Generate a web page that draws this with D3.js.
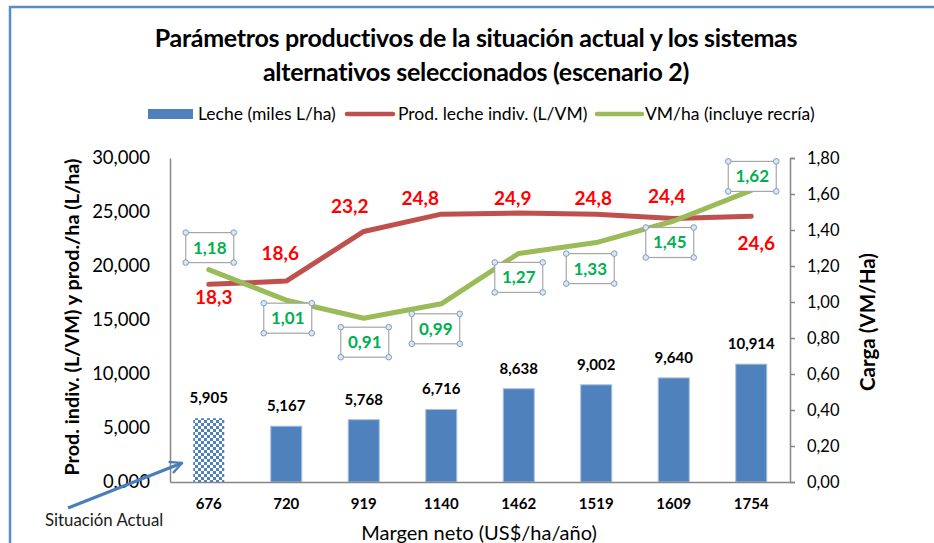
<!DOCTYPE html>
<html>
<head>
<meta charset="utf-8">
<script src="https://cdn.jsdelivr.net/npm/d3@7"></script>
<style>
  html, body { margin: 0; padding: 0; background: #fff; }
  svg { display: block; font-family: Lato, "Open Sans", sans-serif; }
</style>
</head>
<body>
<svg id="chart" width="934" height="543"></svg>
<script>
// ---- data ----
const categories = ["676", "720", "919", "1140", "1462", "1519", "1609", "1754"];
const leche = [5905, 5167, 5768, 6716, 8638, 9002, 9640, 10914];          // L/ha
const prodIndiv = [18.3, 18.6, 23.2, 24.8, 24.9, 24.8, 24.4, 24.6];       // L/VM
const vmHa = [1.18, 1.01, 0.91, 0.99, 1.27, 1.33, 1.45, 1.62];            // VM/ha
const leftTicks = [0, 5000, 10000, 15000, 20000, 25000, 30000];
const leftTickLabels = ["0,000", "5,000", "10,000", "15,000", "20,000", "25,000", "30,000"];
const rightTicks = [0, 0.2, 0.4, 0.6, 0.8, 1.0, 1.2, 1.4, 1.6, 1.8];
const rightTickLabels = ["0,00", "0,20", "0,40", "0,60", "0,80", "1,00", "1,20", "1,40", "1,60", "1,80"];
const redLabels = ["18,3", "18,6", "23,2", "24,8", "24,9", "24,8", "24,4", "24,6"];
const greenLabels = ["1,18", "1,01", "0,91", "0,99", "1,27", "1,33", "1,45", "1,62"];
const barLabels = ["5,905", "5,167", "5,768", "6,716", "8,638", "9,002", "9,640", "10,914"];

// ---- label placement (style) ----
const redOff = [[5, 13], [-6, -28], [-14, -25], [-21, -16], [-6, -15], [-3, -16], [-7, -22], [5, 27]];
const greenOff = [[1, -22], [1.5, 18], [1, 24], [-5.5, 25], [0, 24], [-6, 26], [-4, 21.5], [1, -14]];

const svg = d3.select("#chart");
const x0 = 170, x1 = 790, yTop = 158, yBot = 482;

const colBar = "#4F81BD", colRed = "#C0504D", colGreen = "#9BBB59", axisCol = "#868686";

// chart border
svg.append("rect").attr("x", 10).attr("y", 7).attr("width", 1000).attr("height", 1000)
  .attr("fill", "none").attr("stroke", "#5B8BC9").attr("stroke-width", 2.5);

// pattern
const defs = svg.append("defs");
const pat = defs.append("pattern").attr("id", "checker").attr("patternUnits", "userSpaceOnUse")
  .attr("width", 6).attr("height", 6);
pat.append("rect").attr("width", 6).attr("height", 6).attr("fill", "#fff");
pat.append("rect").attr("width", 3).attr("height", 3).attr("fill", colBar);
pat.append("rect").attr("x", 3).attr("y", 3).attr("width", 3).attr("height", 3).attr("fill", colBar);

defs.append("marker").attr("id", "arrowHead").attr("viewBox", "0 0 10 10")
  .attr("refX", 9).attr("refY", 5).attr("markerWidth", 5).attr("markerHeight", 5)
  .attr("markerUnits", "strokeWidth").attr("orient", "auto")
  .append("path").attr("d", "M1,1 L9,5 L1,9").attr("fill", "none")
  .attr("stroke", "#4A7EBB").attr("stroke-width", 1.6);

// scales
const x = d3.scaleBand().domain(categories).range([x0, x1]).paddingInner(0.6).paddingOuter(0.3);
const yL = d3.scaleLinear().domain([0, 30000]).range([yBot, yTop]);
const yR = d3.scaleLinear().domain([0, 1.8]).range([yBot, yTop]);
const cx = c => x(c) + x.bandwidth() / 2;

// title
const title = svg.append("g").attr("font-weight", "bold").attr("font-size", 25)
  .attr("text-anchor", "middle").attr("fill", "#000");
title.append("text").attr("x", 476).attr("y", 47).attr("letter-spacing", -0.3)
  .text("Parámetros productivos de la situación actual y los sistemas");
title.append("text").attr("x", 476).attr("y", 81).attr("letter-spacing", -0.3)
  .text("alternativos seleccionados (escenario 2)");

// legend
const lg = svg.append("g").attr("font-size", 17.5).attr("fill", "#000");
lg.append("rect").attr("x", 148).attr("y", 109).attr("width", 45).attr("height", 10).attr("fill", colBar);
lg.append("text").attr("x", 198).attr("y", 120).text("Leche (miles L/ha)");
lg.append("line").attr("x1", 347).attr("x2", 393).attr("y1", 114).attr("y2", 114)
  .attr("stroke", colRed).attr("stroke-width", 4.5).attr("stroke-linecap", "round");
lg.append("text").attr("x", 398).attr("y", 120).text("Prod. leche indiv. (L/VM)");
lg.append("line").attr("x1", 597).attr("x2", 642).attr("y1", 114).attr("y2", 114)
  .attr("stroke", colGreen).attr("stroke-width", 4.5).attr("stroke-linecap", "round");
lg.append("text").attr("x", 645).attr("y", 120).text("VM/ha (incluye recría)");

// bars
svg.append("g").selectAll("rect").data(categories).join("rect")
  .attr("x", d => x(d)).attr("width", x.bandwidth())
  .attr("y", (d, i) => yL(leche[i])).attr("height", (d, i) => yBot - yL(leche[i]))
  .attr("fill", (d, i) => i === 0 ? "url(#checker)" : colBar)
  .attr("stroke", (d, i) => i === 0 ? "none" : "#A7C0E0").attr("stroke-width", 1);

// bar labels
svg.append("g").attr("font-size", 15).attr("font-weight", "bold").attr("text-anchor", "middle")
  .selectAll("text").data(categories).join("text")
  .attr("x", d => cx(d)).attr("y", (d, i) => yL(leche[i]) - 15)
  .text((d, i) => barLabels[i]);

// axes
const axL = d3.axisLeft(yL).tickValues(leftTicks).tickFormat((d, i) => leftTickLabels[i]).tickSize(0).tickPadding(20);
const gL = svg.append("g").attr("transform", `translate(${x0},0)`).call(axL);
gL.select(".domain").attr("stroke", axisCol).attr("stroke-width", 1.5);
gL.selectAll("text").attr("font-size", 18.5).attr("font-family", "Lato").attr("fill", "#000");

const axR = d3.axisRight(yR).tickValues(rightTicks).tickFormat((d, i) => rightTickLabels[i]).tickSize(5).tickPadding(12);
const gR = svg.append("g").attr("transform", `translate(${x1},0)`).call(axR);
gR.select(".domain").attr("stroke", axisCol).attr("stroke-width", 1.5);
gR.selectAll(".tick line").attr("stroke", axisCol).attr("stroke-width", 1.5);
gR.selectAll("text").attr("font-size", 16.5).attr("font-family", "Lato").attr("fill", "#000");

const axB = d3.axisBottom(x).tickSize(0).tickPadding(16);
const gB = svg.append("g").attr("transform", `translate(0,${yBot})`).call(axB);
gB.select(".domain").attr("stroke", axisCol).attr("stroke-width", 1.5);
gB.selectAll("text").attr("font-size", 15).attr("font-weight", "bold").attr("font-family", "Lato").attr("fill", "#000");

// axis titles
svg.append("text").attr("transform", "translate(79,317) rotate(-90)").attr("text-anchor", "middle")
  .attr("font-size", 19.8).attr("font-weight", "bold").text("Prod. indiv. (L/VM) y prod./ha (L/ha)");
svg.append("text").attr("transform", "translate(875,322) rotate(-90)").attr("text-anchor", "middle")
  .attr("font-size", 20.5).attr("font-weight", "bold").text("Carga (VM/Ha)");
svg.append("text").attr("x", 479).attr("y", 540).attr("text-anchor", "middle")
  .attr("font-size", 20).text("Margen neto (US$/ha/año)");

// lines
const redLine = d3.line().x((d, i) => cx(categories[i])).y(d => yL(d * 1000));
svg.append("path").datum(prodIndiv).attr("d", redLine).attr("fill", "none")
  .attr("stroke", colRed).attr("stroke-width", 5).attr("stroke-linejoin", "round").attr("stroke-linecap", "round");
const greenLine = d3.line().x((d, i) => cx(categories[i])).y(d => yR(d));
svg.append("path").datum(vmHa).attr("d", greenLine).attr("fill", "none")
  .attr("stroke", colGreen).attr("stroke-width", 5).attr("stroke-linejoin", "round").attr("stroke-linecap", "round");

// red labels
svg.append("g").attr("font-size", 19).attr("font-weight", "bold").attr("fill", "#FF0000")
  .attr("text-anchor", "middle")
  .selectAll("text").data(prodIndiv).join("text")
  .attr("x", (d, i) => cx(categories[i]) + redOff[i][0])
  .attr("y", (d, i) => yL(d * 1000) + redOff[i][1])
  .attr("dy", "0.35em")
  .text((d, i) => redLabels[i]);

// green boxed labels
const gg = svg.append("g").selectAll("g").data(vmHa).join("g")
  .attr("transform", (d, i) => `translate(${cx(categories[i]) + greenOff[i][0]},${yR(d) + greenOff[i][1]})`);
gg.append("rect").attr("x", -24).attr("y", -15).attr("width", 48).attr("height", 30)
  .attr("fill", "#fff").attr("stroke", "#A6A6A6").attr("stroke-width", 1.2);
gg.append("text").attr("text-anchor", "middle").attr("dy", "0.35em").attr("font-size", 17)
  .attr("font-weight", "bold").attr("fill", "#00B050").text((d, i) => greenLabels[i]);
[[-24, -15], [24, -15], [-24, 15], [24, 15]].forEach(([a, b]) => {
  gg.append("circle").attr("cx", a).attr("cy", b).attr("r", 2.8)
    .attr("fill", "#DCE6F2").attr("stroke", "#7F9DB9").attr("stroke-width", 1);
});

// annotation arrow
svg.append("line").attr("x1", 68).attr("y1", 508).attr("x2", 182).attr("y2", 463)
  .attr("stroke", "#4A7EBB").attr("stroke-width", 3).attr("marker-end", "url(#arrowHead)");
svg.append("text").attr("x", 45).attr("y", 526).attr("font-size", 16.8).attr("fill", "#1a1a1a")
  .text("Situación Actual");
</script>
</body>
</html>
